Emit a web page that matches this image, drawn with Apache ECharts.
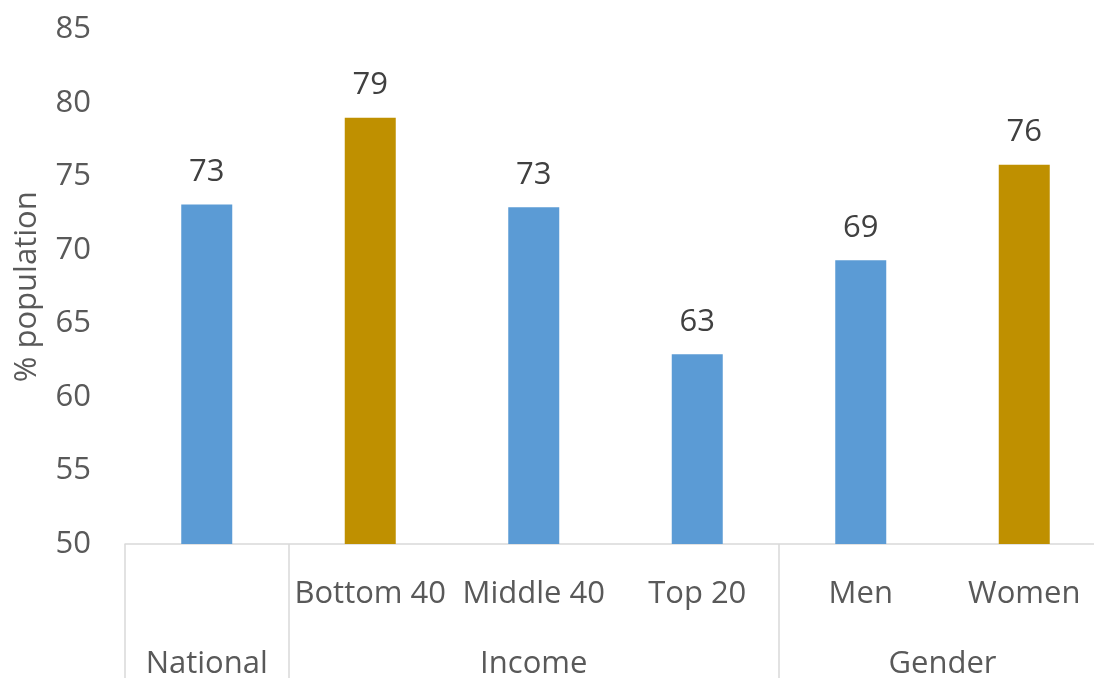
<!DOCTYPE html>
<html>
<head>
<meta charset="utf-8">
<script src="https://cdn.jsdelivr.net/npm/echarts@6/dist/echarts.min.js"></script>
<style>
  html, body { margin: 0; padding: 0; background: #ffffff; }
  #chart { width: 1094px; height: 678px; }
</style>
</head>
<body>
<div id="chart"></div>
<script>
// Share of population (%) by group
const categories = ['National', 'Bottom 40', 'Middle 40', 'Top 20', 'Men', 'Women'];
const subLabels = ['', 'Bottom 40', 'Middle 40', 'Top 20', 'Men', 'Women'];
const values = [73.1, 79.0, 72.9, 62.9, 69.3, 75.8];
const groupNames = ['National', 'Income', 'Gender'];
const groupSpans = [1, 3, 2];
const yTicks = [50, 55, 60, 65, 70, 75, 80, 85];
const highlighted = ['Bottom 40', 'Women'];

// Group boundaries and centres on a 0..N scale aligned with the category bands
const bounds = [0];
groupSpans.forEach(s => bounds.push(bounds[bounds.length - 1] + s));
const centres = groupNames.map((_, i) => (bounds[i] + bounds[i + 1]) / 2);

const FONT = '"Open Sans", "Noto Sans", sans-serif';
const AXIS_GREY = '#d9d9d9';
const TEXT_GREY = '#595959';

const chart = echarts.init(document.getElementById('chart'), null, { renderer: 'canvas' });

chart.setOption({
  animation: false,
  backgroundColor: '#ffffff',
  textStyle: { fontFamily: FONT },
  // the plot runs a little past the right edge of the canvas
  grid: {
    left: 125, width: 981, top: 29.5, bottom: 134,
    containLabel: false, outerBoundsMode: 'none'
  },
  xAxis: [
    {
      type: 'category',
      data: categories,
      position: 'bottom',
      offset: 0,
      axisLine: { show: true, onZero: false, lineStyle: { color: AXIS_GREY, width: 1.5 } },
      axisTick: { show: false },
      splitLine: { show: false },
      axisLabel: {
        interval: 0,
        margin: 35,
        fontSize: 31,
        fontFamily: FONT,
        color: TEXT_GREY,
        formatter: (v, i) => subLabels[i]
      }
    },
    {
      type: 'value',
      min: 0,
      max: categories.length,
      position: 'bottom',
      offset: 0,
      axisLine: { show: false, onZero: false },
      splitLine: { show: false },
      axisTick: {
        show: true,
        customValues: bounds,
        length: 140,
        inside: false,
        lineStyle: { color: AXIS_GREY, width: 1.5 }
      },
      axisLabel: {
        customValues: centres,
        margin: 105,
        fontSize: 31,
        fontFamily: FONT,
        color: TEXT_GREY,
        formatter: (v) => {
          const i = centres.findIndex(c => Math.abs(c - v) < 1e-6);
          return i >= 0 ? groupNames[i] : '';
        }
      }
    }
  ],
  yAxis: {
    type: 'value',
    min: yTicks[0],
    max: yTicks[yTicks.length - 1],
    interval: yTicks[1] - yTicks[0],
    name: '% population',
    nameLocation: 'middle',
    nameRotate: 90,
    nameGap: 82,
    nameTextStyle: { fontSize: 31, fontFamily: FONT, color: TEXT_GREY },
    axisLine: { show: false },
    axisTick: { show: false },
    splitLine: { show: false },
    axisLabel: { margin: 34, fontSize: 31, fontFamily: FONT, color: TEXT_GREY }
  },
  series: [
    {
      type: 'bar',
      xAxisIndex: 0,
      data: values.map((v, i) => ({
        value: v,
        itemStyle: { color: highlighted.includes(categories[i]) ? '#bf9000' : '#5b9bd5' }
      })),
      barWidth: 51,
      label: {
        show: true,
        position: 'top',
        distance: 17,
        fontSize: 31,
        fontFamily: FONT,
        color: '#404040',
        formatter: (p) => Math.round(p.value)
      }
    }
  ]
});
</script>
</body>
</html>
